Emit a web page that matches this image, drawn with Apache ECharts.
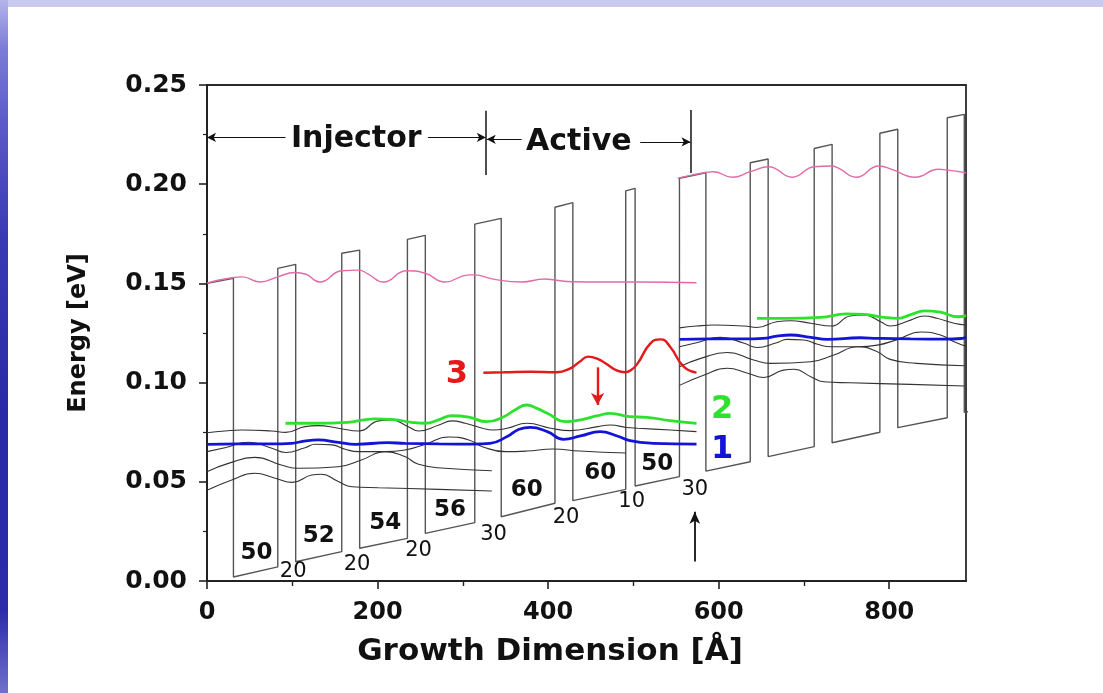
<!DOCTYPE html>
<html>
<head>
<meta charset="utf-8">
<title>Growth Dimension band diagram</title>
<script src="https://cdn.jsdelivr.net/npm/echarts@6.0.0/dist/echarts.min.js"></script>
<style>
  html, body { margin: 0; padding: 0; background: #ffffff; }
  #chart { position: absolute; left: 0; top: 0; width: 1103px; height: 693px; }
  #topband { position: absolute; left: 0; top: 0; width: 1103px; height: 7px; background: #cacaf0; }
  #sideband {
    position: absolute; left: 0; top: 0; width: 8px; height: 693px;
    background: linear-gradient(to bottom, #b4b4ea 0%, #7c7cd8 7%, #5a5ac8 18%, #3a3ab4 34%, #2a2aa8 60%, #2c2caa 88%, #7070cc 100%);
  }
</style>
</head>
<body>
<div id="chart"></div>
<div id="topband"></div>
<div id="sideband"></div>
<script>
// Conduction band edge (growth position in Å, energy in eV)
const bandX = [0, 31, 31, 83, 83, 104, 104, 158, 158, 179, 179, 235, 235, 256, 256, 314, 314, 345, 345, 408, 408, 429, 429, 491, 491, 502, 502, 554,
               554, 585, 585, 637, 637, 658, 658, 712, 712, 733, 733, 789, 789, 810, 810, 868, 868, 888, 888, 899];
const bandE = [0.1500, 0.1526, 0.0020, 0.0071, 0.1576, 0.1596, 0.0097, 0.0148, 0.1652, 0.1668, 0.0165, 0.0215, 0.1722, 0.1742, 0.0240, 0.0294,
               0.1799, 0.1828, 0.0324, 0.0392, 0.1884, 0.1907, 0.0405, 0.0462, 0.1966, 0.1979, 0.0479, 0.0526,
               0.2030, 0.2058, 0.0554, 0.0601, 0.2108, 0.2127, 0.0627, 0.0677, 0.2180, 0.2201, 0.0697, 0.0750, 0.2257, 0.2277, 0.0773, 0.0823,
               0.2335, 0.2352, 0.0850, 0.0858];

// Upper (continuum) level, first and second period
const pink1 = [[0,0.1501],[14,0.1517],[31,0.1530],[41,0.1533],[62,0.1507],[83,0.1533],[103,0.1555],[116,0.1546],[132,0.1507],[158,0.1564],[178,0.1567],[189,0.1547],[207,0.1507],[234,0.1564],[256,0.1551],[279,0.1507],[307,0.1543],[314,0.1543],[334,0.1523],[369,0.1507],[396,0.1522],[408,0.1517],[428,0.1508],[467,0.1507],[506,0.1507],[574,0.1503]];
const pink2 = [[552,0.2030],[568,0.2046],[586,0.2060],[594,0.2063],[616,0.2035],[637,0.2063],[659,0.2088],[666,0.2080],[686,0.2035],[712,0.2088],[732,0.2092],[741,0.2080],[761,0.2035],[788,0.2092],[803,0.2075],[830,0.2035],[858,0.2075],[866,0.2072],[890,0.2058]];

// Level 2 (green), level 1 (blue), level 3 (red)
const green1 = [[92,0.0795],[127,0.0795],[165,0.0800],[197,0.0817],[216,0.0815],[240,0.0800],[256,0.0795],[273,0.0815],[287,0.0833],[307,0.0826],[328,0.0803],[348,0.0828],[362,0.0865],[375,0.0887],[387,0.0870],[399,0.0845],[421,0.0803],[441,0.0815],[458,0.0833],[473,0.0845],[496,0.0828],[516,0.0825],[543,0.0808],[574,0.0795]];
const green2 = [[645,0.1324],[680,0.1324],[719,0.1329],[750,0.1346],[770,0.1344],[794,0.1329],[810,0.1324],[826,0.1344],[841,0.1362],[860,0.1355],[881,0.1332],[890,0.1338]];
const blue1 = [[0,0.0689],[36,0.0691],[76,0.0691],[99,0.0694],[114,0.0705],[130,0.0711],[154,0.0699],[174,0.0689],[212,0.0697],[232,0.0694],[272,0.0691],[312,0.0690],[332,0.0694],[352,0.0728],[366,0.0765],[379,0.0774],[399,0.0753],[418,0.0714],[438,0.0731],[461,0.0753],[481,0.0731],[496,0.0707],[523,0.0694],[574,0.0690]];
const blue2 = [[554,0.1218],[590,0.1220],[630,0.1220],[652,0.1223],[668,0.1234],[684,0.1240],[708,0.1228],[727,0.1218],[766,0.1226],[786,0.1223],[825,0.1220],[866,0.1219],[886,0.1223],[890,0.1228]];
const red1 = [[324,0.1050],[348,0.1052],[379,0.1055],[410,0.1052],[426,0.1072],[437,0.1105],[447,0.1131],[458,0.1120],[468,0.1095],[481,0.1060],[490,0.1052],[497,0.1062],[505,0.1097],[520,0.1198],[532,0.1218],[543,0.1181],[559,0.1080],[574,0.1050]];

// Other injector states (thin black)
const stateA1 = [[0,0.0747],[21,0.0756],[41,0.0761],[76,0.0756],[92,0.0749],[115,0.0778],[130,0.0783],[154,0.0770],[178,0.0756],[201,0.0807],[216,0.0812],[236,0.0778],[248,0.0756],[272,0.0786],[287,0.0807],[303,0.0795],[323,0.0770],[335,0.0761],[352,0.0770],[375,0.0795],[403,0.0770],[426,0.0758],[458,0.0778],[473,0.0786],[492,0.0774],[505,0.0770],[543,0.0761],[574,0.0753]];
const stateC1 = [[0,0.0652],[21,0.0672],[49,0.0699],[76,0.0669],[92,0.0648],[115,0.0672],[127,0.0689],[147,0.0686],[162,0.0664],[178,0.0652],[209,0.0652],[232,0.0660],[256,0.0689],[283,0.0726],[307,0.0711],[323,0.0677],[350,0.0652],[375,0.0655],[406,0.0665],[437,0.0655],[491,0.0645]];
const stateD1 = [[0,0.0551],[25,0.0593],[56,0.0623],[87,0.0585],[107,0.0568],[154,0.0576],[181,0.0610],[209,0.0652],[232,0.0627],[248,0.0588],[279,0.0568],[334,0.0556]];
const stateE1 = [[0,0.0457],[29,0.0509],[56,0.0543],[80,0.0518],[100,0.0497],[123,0.0534],[134,0.0538],[154,0.0501],[170,0.0475],[201,0.0470],[272,0.0462],[334,0.0454]];
const stateA2 = [[554,0.1276],[574,0.1285],[594,0.1290],[630,0.1285],[645,0.1278],[668,0.1307],[684,0.1312],[708,0.1299],[732,0.1285],[754,0.1336],[770,0.1341],[790,0.1307],[801,0.1285],[825,0.1315],[841,0.1336],[856,0.1324],[876,0.1299],[890,0.1290]];
const stateC2 = [[554,0.1181],[574,0.1201],[602,0.1228],[630,0.1198],[645,0.1177],[668,0.1201],[680,0.1218],[700,0.1215],[716,0.1193],[732,0.1181],[763,0.1181],[786,0.1189],[810,0.1218],[837,0.1255],[860,0.1240],[876,0.1206],[890,0.1183]];
const stateD2 = [[554,0.1080],[579,0.1122],[610,0.1152],[641,0.1114],[661,0.1097],[708,0.1105],[735,0.1139],[763,0.1181],[786,0.1156],[801,0.1117],[832,0.1097],[888,0.1085]];
const stateE2 = [[554,0.0986],[583,0.1038],[610,0.1072],[634,0.1047],[653,0.1026],[676,0.1063],[688,0.1067],[708,0.1030],[723,0.1004],[754,0.0999],[825,0.0991],[888,0.0983]];

// Layer thickness labels (Å): wells in bold, barriers in regular weight
const wellText = ['50', '52', '54', '56', '60', '60', '50'];
const wellAtX = [58, 131, 209, 285, 375, 461, 528];
const wellAtE = [0.0142, 0.0227, 0.0294, 0.0358, 0.0459, 0.0546, 0.0590];
const barrierText = ['20', '20', '20', '30', '20', '10', '30'];
const barrierAtX = [101, 176, 248, 336, 421, 498, 572];
const barrierAtE = [0.0047, 0.0084, 0.0151, 0.0232, 0.0321, 0.0400, 0.0462];

// Level numbers
const levelText = ['3', '2', '1'];
const levelAtX = [293, 604, 604];
const levelAtE = [0.1038, 0.0862, 0.0660];

// Region headings and their extents
const regionText = ['Injector', 'Active'];
const regionAtX = [175, 436];
const regionAtE = [0.2226, 0.2214];
const injectorEdges = [0, 92, 259, 327];
const activeEdges = [328, 369, 508, 567];
const dividerX = [327, 567];
const dropArrowX = 458;
const pumpArrowX = 572;

const xTicks = [0, 200, 400, 600, 800];
const xMinorTicks = [100, 300, 500, 700];
const xMax = 890;

const FONT = 'DejaVu Sans';
const INK = '#111111';

const chart = echarts.init(document.getElementById('chart'), null, { renderer: 'canvas' });

function curve(data, color, width, z) {
  return {
    type: 'line', data: data, showSymbol: false, symbol: 'none',
    smooth: 0.5, clip: true, silent: true, z: z,
    lineStyle: { color: color, width: width }
  };
}

function textSeries(xs, es, texts, style, z) {
  return {
    type: 'scatter', silent: true, z: z, symbolSize: 0,
    itemStyle: { color: 'rgba(0,0,0,0)', opacity: 1 },
    data: xs.map((x, i) => ({ value: [x, es[i]], name: texts[i], label: style.colors ? { color: style.colors[i] } : undefined })),
    label: { show: true, position: 'inside', formatter: '{b}', fontFamily: FONT, opacity: 1,
             fontWeight: style.weight, fontSize: style.size, color: INK }
  };
}

function seg(from, to, color, width, arrow, size) {
  return [
    { coord: from, symbol: 'none', lineStyle: { color: color, width: width, type: 'solid', opacity: 1 } },
    { coord: to, symbol: arrow ? 'arrow' : 'none', symbolSize: size || [7, 9], itemStyle: { color: color, opacity: 1 },
      lineStyle: { color: color, width: width, type: 'solid', opacity: 1 } }
  ];
}

const arrows = [
  seg([injectorEdges[1], 0.2236], [injectorEdges[0], 0.2236], '#111', 1.2, true),
  seg([injectorEdges[2], 0.2236], [injectorEdges[3], 0.2236], '#111', 1.2, true),
  seg([dividerX[0], 0.2370], [dividerX[0], 0.2046], '#222', 1.6, false),
  seg([activeEdges[1], 0.2226], [activeEdges[0], 0.2226], '#111', 1.2, true),
  seg([activeEdges[2], 0.2213], [activeEdges[3], 0.2213], '#111', 1.2, true),
  seg([dividerX[1], 0.2374], [dividerX[1], 0.2056], '#222', 1.6, false),
  seg([dropArrowX, 0.1077], [dropArrowX, 0.0887], '#e41a1a', 2.4, true, [10, 12]),
  seg([pumpArrowX, 0.0098], [pumpArrowX, 0.0349], '#111', 1.8, true, [8, 12])
];

const option = {
  animation: false,
  backgroundColor: 'transparent',
  grid: { left: 207, top: 85, right: 137, bottom: 112, containLabel: false, outerBoundsMode: 'none',
          show: true, borderColor: '#2a2a2a', borderWidth: 1.8, backgroundColor: 'transparent' },
  xAxis: [
    {
      type: 'value', min: 0, max: xMax, interval: 200, position: 'bottom',
      axisLine: { show: true, onZero: false, lineStyle: { color: '#222', width: 2 } },
      axisTick: { show: true, inside: false, length: 8, customValues: xTicks, lineStyle: { color: '#222', width: 1.6 } },
      axisLabel: { show: true, customValues: xTicks, margin: 20, fontFamily: FONT, fontWeight: 'bold', fontSize: 24, color: INK },
      splitLine: { show: false }
    },
    {
      type: 'value', min: 0, max: xMax, position: 'bottom', gridIndex: 0,
      axisLine: { show: false },
      axisTick: { show: true, inside: false, length: 5, customValues: xMinorTicks, lineStyle: { color: '#222', width: 1.4 } },
      axisLabel: { show: false },
      splitLine: { show: false }
    }
  ],
  yAxis: {
    type: 'value', min: 0, max: 0.25, interval: 0.05,
    name: 'Energy [eV]', nameLocation: 'middle', nameGap: 116, nameRotate: 90,
    nameTextStyle: { fontFamily: FONT, fontWeight: 'bold', fontSize: 24, color: INK },
    axisLine: { show: true, onZero: false, lineStyle: { color: '#222', width: 2 } },
    axisTick: { show: true, inside: false, length: 8, lineStyle: { color: '#222', width: 1.6 } },
    minorTick: { show: true, splitNumber: 2, length: 4, lineStyle: { color: '#222', width: 1.2 } },
    axisLabel: { margin: 20, fontFamily: FONT, fontWeight: 'bold', fontSize: 25, color: INK,
                 formatter: v => v.toFixed(2) },
    splitLine: { show: false }
  },
  graphic: [
    { type: 'text', x: 550, y: 652, silent: true,
      style: { text: 'Growth Dimension [Å]', fontFamily: FONT, fontWeight: 'bold', fontSize: 31, fill: INK,
               align: 'center', verticalAlign: 'middle' } }
  ],
  series: [
    {
      type: 'line', data: bandX.map((x, i) => [x, bandE[i]]), showSymbol: false, symbol: 'none',
      smooth: false, clip: true, silent: true, z: 2,
      lineStyle: { color: '#555555', width: 1.4 }
    },
    curve(stateA1, '#333333', 1.1, 3),
    curve(stateC1, '#333333', 1.1, 3),
    curve(stateD1, '#333333', 1.1, 3),
    curve(stateE1, '#333333', 1.1, 3),
    curve(stateA2, '#333333', 1.1, 3),
    curve(stateC2, '#333333', 1.1, 3),
    curve(stateD2, '#333333', 1.1, 3),
    curve(stateE2, '#333333', 1.1, 3),
    curve(pink1, '#e36aa9', 1.4, 4),
    curve(pink2, '#e36aa9', 1.4, 4),
    curve(green1, '#2fe12f', 2.8, 5),
    curve(green2, '#2fe12f', 2.8, 5),
    curve(blue1, '#1414d6', 2.8, 6),
    curve(blue2, '#1414d6', 2.8, 6),
    curve(red1, '#e41a1a', 2.4, 6),
    {
      type: 'line', data: [], silent: true, z: 7,
      markLine: { silent: true, animation: false, symbol: ['none', 'arrow'], label: { show: false },
                  emphasis: { disabled: true }, data: arrows }
    },
    textSeries(wellAtX, wellAtE, wellText, { weight: 'bold', size: 23 }, 8),
    textSeries(barrierAtX, barrierAtE, barrierText, { weight: 'normal', size: 21 }, 8),
    textSeries(levelAtX, levelAtE, levelText, { weight: 'bold', size: 32, colors: ['#e41a1a', '#2fe12f', '#1414d6'] }, 8),
    textSeries(regionAtX, regionAtE, regionText, { weight: 'bold', size: 30 }, 8)
  ]
};

chart.setOption(option);
</script>
</body>
</html>
